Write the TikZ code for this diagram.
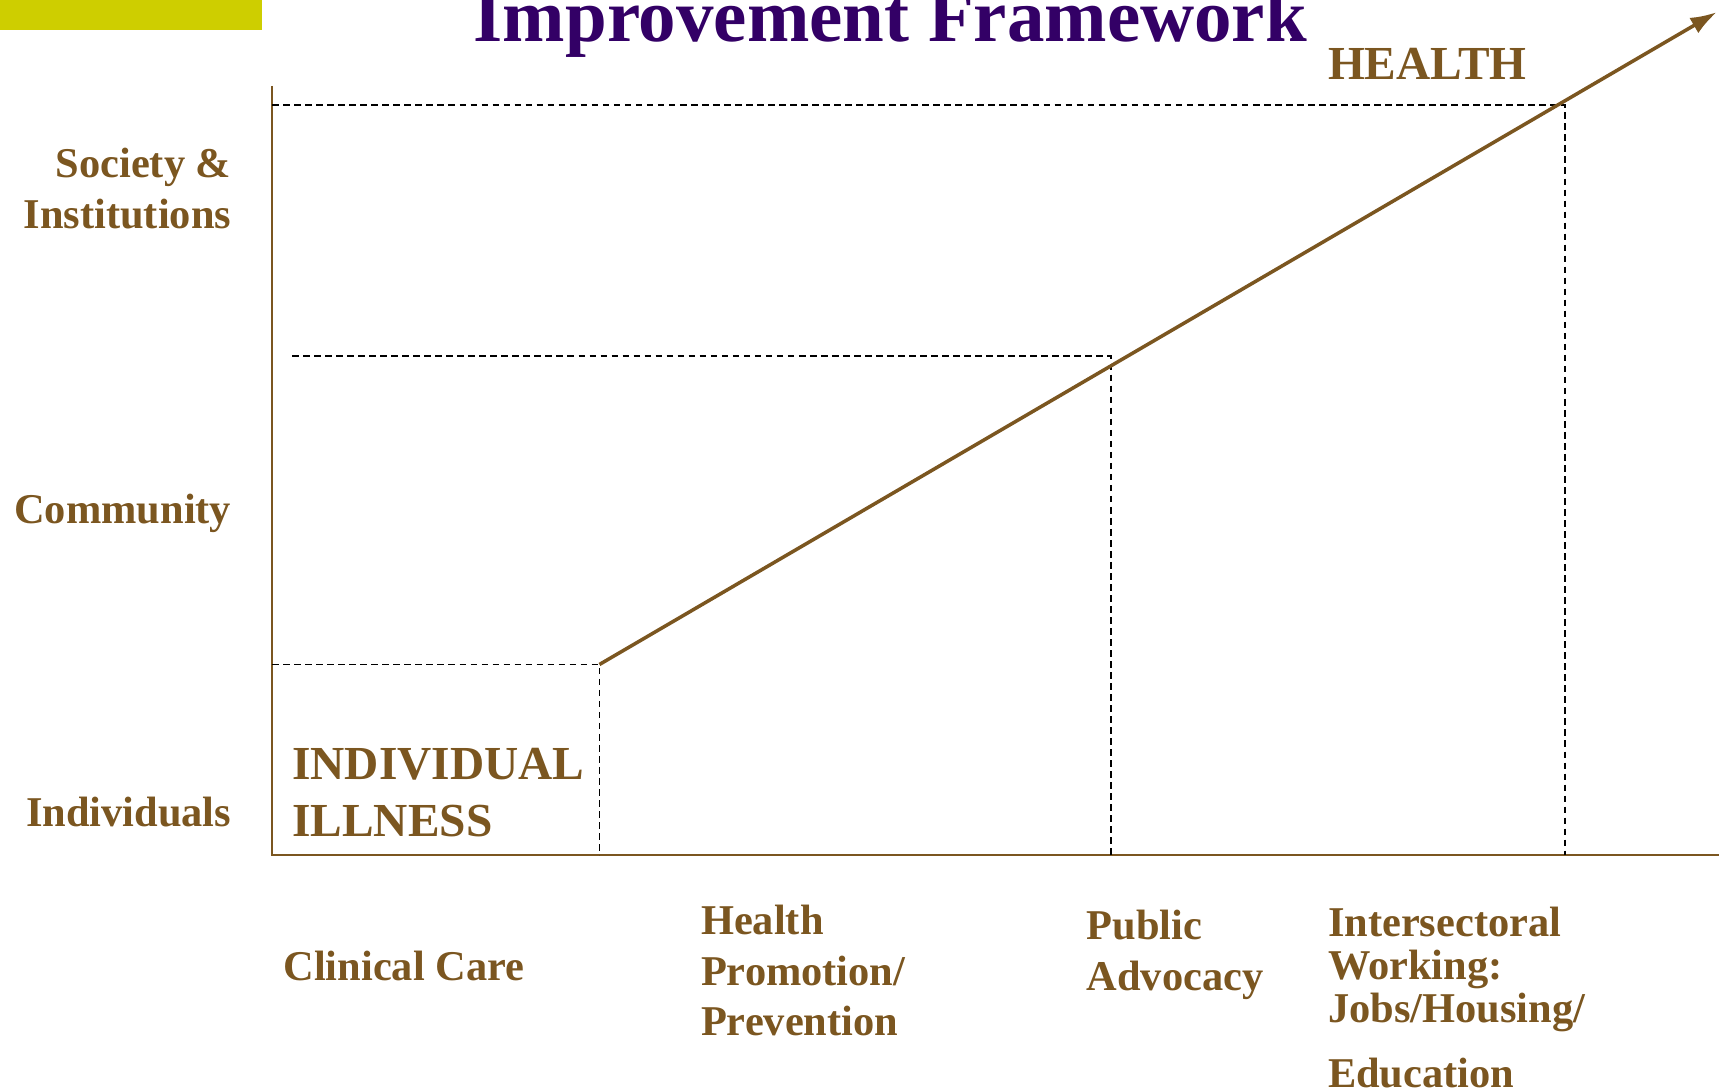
\documentclass[tikz,border=0pt]{standalone}
\usepackage{fontspec}
\setmainfont{Liberation Serif}
\usetikzlibrary{arrows.meta}
\definecolor{brn}{RGB}{123,86,32}
\definecolor{ttl}{RGB}{51,0,102}
\definecolor{barcol}{RGB}{206,206,0}
\tikzset{
  lbl/.style={inner sep=0pt, text=brn, font=\bfseries\fontsize{38.5}{46}\selectfont, align=left},
  lblr/.style={lbl, align=right},
  big/.style={inner sep=0pt, text=brn, font=\bfseries\fontsize{43}{52}\selectfont, align=left},
  axis/.style={draw=brn, line width=2pt},
  guide/.style={draw=black, line width=1.6pt, dash pattern=on 6pt off 4pt},
  trend/.style={draw=brn, line width=3.2pt, -{Latex[length=24pt,width=16pt]}}
}
\begin{document}
\begin{tikzpicture}[x=1pt,y=-1pt]
\useasboundingbox (0,0) rectangle (1560,990);
\fill[fill=barcol] (0,0) rectangle (238,27);
\node[inner sep=0pt, anchor=base, text=ttl, font=\bfseries\fontsize{68}{80}\selectfont] (title) at (808,38) {Improvement Framework};
% axes
\coordinate (o) at (247,776);
\coordinate (ytop) at (247,78);
\coordinate (xend) at (1560,776);
\draw[axis] (ytop) -- (o) -- (xend);
% guides
\coordinate (g1a) at (247,603); \coordinate (g1b) at (544,603); \coordinate (g1c) at (544,776);
\coordinate (g2a) at (265,323); \coordinate (g2b) at (1008,323); \coordinate (g2c) at (1008,776);
\coordinate (g3a) at (247,95); \coordinate (g3b) at (1420,95); \coordinate (g3c) at (1420,776);
\draw[guide] (g1a) -- (g1b) -- (g1c);
\draw[guide] (g2a) -- (g2b) -- (g2c);
\draw[guide] (g3a) -- (g3b) -- (g3c);
% trend
\coordinate (tip) at (1558,11);
\draw[trend] (g1b) -- (tip);
% y labels
\node[lblr, anchor=base east] (soc) at (210,207) {Society \&\\Institutions};
\node[lblr, anchor=base east] (com) at (210,475) {Community};
\node[lblr, anchor=base east] (ind) at (210,750) {Individuals};
% big labels
\node[big, anchor=base west] (ill) at (265,759) {INDIVIDUAL\\ILLNESS};
\node[big, anchor=base west] (hea) at (1205,72) {HEALTH};
% x labels
\node[lbl, anchor=base west] (cc) at (257,890) {Clinical Care};
\node[lbl, anchor=base west] (hp) at (636,940) {Health\\Promotion/\\Prevention};
\node[lbl, anchor=base west] (pa) at (986,899) {Public\\Advocacy};
\node[lbl, anchor=base west, font=\bfseries\fontsize{38.5}{39}\selectfont] (iw) at (1205,987) {Intersectoral\\Working:\\Jobs/Housing/\\[20pt]Education};
\end{tikzpicture}
\end{document}
